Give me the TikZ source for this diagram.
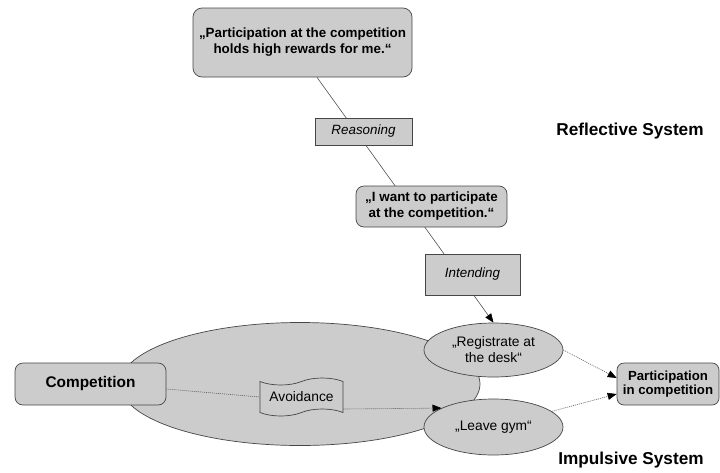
\documentclass[tikz,border=0pt]{standalone}
\usepackage{fontspec}
\setmainfont{Liberation Sans}
\usetikzlibrary{shapes.geometric,shapes.symbols,arrows.meta,backgrounds}

\definecolor{boxgray}{RGB}{204,204,204}
\definecolor{edgegray}{RGB}{70,70,70}
\definecolor{linegray}{RGB}{80,80,80}
\definecolor{dotgray}{RGB}{90,90,90}

\tikzset{
  base/.style={draw=edgegray, fill=boxgray, line width=0.7pt, inner sep=0pt, align=center},
  thought/.style={base, rectangle, rounded corners=9pt,
    font=\fontsize{13.4}{16}\selectfont\bfseries},
  process/.style={base, rectangle, font=\fontsize{13.4}{16}\selectfont\itshape},
  behaviour/.style={base, ellipse, font=\fontsize{13.8}{16}\selectfont},
  field/.style={draw=edgegray, fill=boxgray, line width=0.7pt, ellipse, inner sep=0pt},
  banner/.style={base, tape, tape bend height=7pt, font=\fontsize{13.8}{16}\selectfont},
  systemlabel/.style={font=\fontsize{17.2}{20}\selectfont\bfseries},
  chain/.style={draw=linegray, line width=0.6pt},
  impulse/.style={draw=dotgray, line width=0.6pt, dash pattern=on 1pt off 1pt},
  tip/.style={-{Triangle[length=9pt,width=7pt,color=black,fill=black]}}
}

\begin{document}
\begin{tikzpicture}[x=1pt, y=-1pt]
  \useasboundingbox (0,0) rectangle (720,472);

  % impulsive field behind the behaviour schemata
  \node[field, minimum width=360pt, minimum height=123pt] (impfield) at (300,384) {};

  % reflective chain
  \node[thought, minimum width=219pt, minimum height=69pt] (belief) at (302.5,42.5)
    {„Participation at the competition\\holds high rewards for me.“};
  \node[process, minimum width=97pt, minimum height=27pt] (reason) at (363.5,131.5) {Reasoning};
  \node[thought, rounded corners=8pt, minimum width=151pt, minimum height=41pt] (intent) at (431.5,206.5)
    {„I want to participate\\at the competition.“};
  \node[process, minimum width=95pt, minimum height=41pt] (intend) at (472.5,274.5) {Intending};

  % impulsive side
  \node[behaviour, minimum width=139pt, minimum height=54pt] (regis) at (493.5,350)
    {„Registrate at\\the desk“};
  \node[behaviour, minimum width=139pt, minimum height=56pt] (leave) at (493.5,427)
    {„Leave gym“};
  \node[thought, rounded corners=8pt, font=\fontsize{15.4}{18}\selectfont\bfseries,
        minimum width=151pt, minimum height=42pt] (comp) at (90.5,384) {Competition};
  \node[banner, minimum width=83pt, minimum height=38pt] (avoid) at (301.5,397) {Avoidance};
  \node[thought, rounded corners=7pt, font=\fontsize{13.2}{14.5}\selectfont\bfseries,
        minimum width=102pt, minimum height=42pt] (outcome) at (668,384)
    {Participation\\in competition};

  % system labels
  \node[systemlabel] (reflabel) at (630,131) {Reflective System};
  \node[systemlabel] (implabel) at (631,460) {Impulsive System};

  % straight reflective line, running behind the boxes
  \begin{pgfonlayer}{background}
    \draw[chain, tip] ([xshift=14.5pt]belief.south) -- (regis.north);
  \end{pgfonlayer}

  % impulsive connections
  \draw[impulse] ([yshift=-5pt]comp.east) -- (avoid.west);
  \draw[impulse, tip] ([yshift=-12pt]avoid.east) -- (leave.160);
  \draw[impulse, tip] (regis.east) -- ([yshift=6pt]outcome.west);
  \draw[impulse, tip] (leave.15) -- ([yshift=-10pt]outcome.west);
\end{tikzpicture}
\end{document}
